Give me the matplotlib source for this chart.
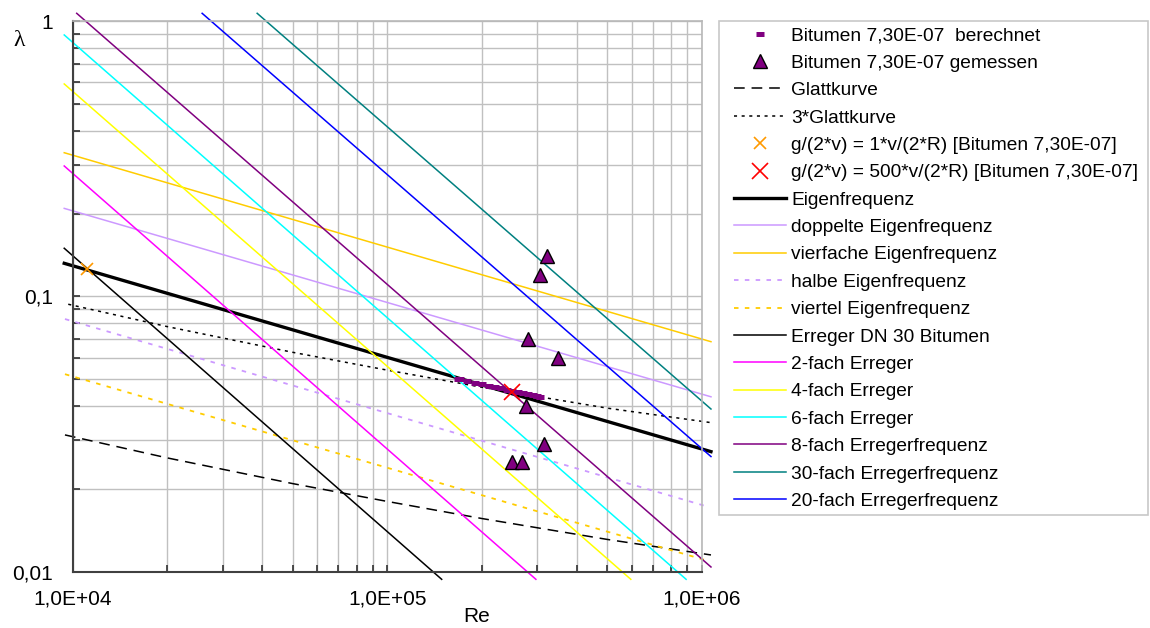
import matplotlib.pyplot as plt
from matplotlib.ticker import FixedLocator, LogLocator, NullFormatter
from matplotlib.patches import Rectangle

plt.rcParams['font.family'] = ['Liberation Sans', 'DejaVu Sans']

# measured points
gem_re = [3.22e5, 3.06e5, 2.80e5, 3.49e5, 2.77e5, 3.15e5, 2.50e5, 2.68e5]
gem = [0.14, 0.12, 0.07, 0.06, 0.04, 0.029, 0.025, 0.025]

# calculated points
ber_re = [1.68e5, 1.70e5, 1.80e5, 1.90e5, 2.00e5, 2.10e5, 2.20e5, 2.30e5,
          2.40e5, 2.50e5, 2.60e5, 2.70e5, 2.80e5, 2.90e5, 3.00e5, 3.06e5]
ber = [0.0501, 0.04995, 0.04925, 0.0486, 0.04799, 0.04742, 0.04687, 0.04636,
       0.04588, 0.04542, 0.04498, 0.04456, 0.04416, 0.04378, 0.04342, 0.0432]

# smooth pipe curves
glatt_re = [9450, 2e4, 5e4, 1e5, 2e5, 5e5, 1.07e6]
glatt = [0.0314, 0.0259, 0.0209, 0.0180, 0.0156, 0.0131, 0.0115]
glatt3_re = [9680, 2e4, 5e4, 1e5, 2e5, 5e5, 1.07e6]
glatt3 = [0.0937, 0.0777, 0.0627, 0.0540, 0.0468, 0.0393, 0.0348]

# single points
g1_re, g1 = [1.114e4], [0.1259]
g500_re, g500 = [2.494e5], [0.0449]

# eigenfrequency lines
eig_re = [9400, 1.07e6]
eigen = [0.132, 0.0273]
doppelt = [0.209, 0.0432]
vierfach = [0.333, 0.0685]
halb_re = [9450, 1.05e6]
halb = [0.0828, 0.0172]
viertel_re = [9450, 1.06e6]
viertel = [0.0522, 0.0109]

# exciter lines
err_re = [9400, 1.49e5]
err = [0.1497, 0.00938]
f2_re = [9400, 2.97e5]
f2 = [0.298, 0.00938]
f4_re = [9400, 5.95e5]
f4 = [0.592, 0.00938]
f6_re = [9400, 8.92e5]
f6 = [0.892, 0.00938]
f8_re = [1.03e4, 1.07e6]
f8 = [1.069, 0.0104]
f30_re = [3.86e4, 1.07e6]
f30 = [1.069, 0.0390]
f20_re = [2.58e4, 1.07e6]
f20 = [1.069, 0.0262]

fig = plt.figure(figsize=(11.5, 6.28), dpi=100)
ax = fig.add_axes([0.0632, 0.0897, 0.547, 0.8764])
ax.set_xscale('log')
ax.set_yscale('log')
ax.set_xlim(1e4, 1e6)
ax.set_ylim(0.01, 1)

h = {}
h['ber'], = ax.plot(ber_re, ber, ls='none', marker='_', ms=6, mew=3.6,
                    color='#800080', zorder=6, label='Bitumen 7,30E-07  berechnet')
h['gem'], = ax.plot(gem_re, gem, ls='none', marker='^', ms=9.5, mfc='#800080',
                    mec='black', mew=1, zorder=7, label='Bitumen 7,30E-07 gemessen')
h['glatt'], = ax.plot(glatt_re, glatt, color='black', lw=1.1, dashes=(7, 4.5),
                      label='Glattkurve')
h['glatt3'], = ax.plot(glatt3_re, glatt3, color='black', lw=1.1, dashes=(2, 3),
                       label='3*Glattkurve')
h['g1'], = ax.plot(g1_re, g1, ls='none', marker='x', ms=9, mew=1.2, color='#ff9900',
                   zorder=8, label='g/(2*v) = 1*v/(2*R) [Bitumen 7,30E-07]')
h['g500'], = ax.plot(g500_re, g500, ls='none', marker='x', ms=12, mew=1.2, color='#ff0000',
                     zorder=8, label='g/(2*v) = 500*v/(2*R) [Bitumen 7,30E-07]')
h['eig'], = ax.plot(eig_re, eigen, color='black', lw=2.4, label='Eigenfrequenz')
h['dop'], = ax.plot(eig_re, doppelt, color='#cc99ff', lw=1.1, label='doppelte Eigenfrequenz')
h['vier'], = ax.plot(eig_re, vierfach, color='#ffcc00', lw=1.1, label='vierfache Eigenfrequenz')
h['halb'], = ax.plot(halb_re, halb, color='#cc99ff', lw=1.3, dashes=(2.5, 3.5),
                     label='halbe Eigenfrequenz')
h['viertel'], = ax.plot(viertel_re, viertel, color='#ffcc00', lw=1.3, dashes=(2.5, 3.5),
                        label='viertel Eigenfrequenz')
h['err'], = ax.plot(err_re, err, color='black', lw=1.1, label='Erreger DN 30 Bitumen')
h['f2'], = ax.plot(f2_re, f2, color='#ff00ff', lw=1.1, label='2-fach Erreger')
h['f4'], = ax.plot(f4_re, f4, color='#ffff00', lw=1.1, label='4-fach Erreger')
h['f6'], = ax.plot(f6_re, f6, color='#00ffff', lw=1.1, label='6-fach Erreger')
h['f8'], = ax.plot(f8_re, f8, color='#800080', lw=1.1, label='8-fach Erregerfrequenz')
h['f30'], = ax.plot(f30_re, f30, color='#008080', lw=1.1, label='30-fach Erregerfrequenz')
h['f20'], = ax.plot(f20_re, f20, color='#0000ff', lw=1.1, label='20-fach Erregerfrequenz')

# lines run a little past the plot frame, like in the original
for line in h.values():
    line.set_clip_on(False)

ax.grid(True, which='both', color='#c0c0c0', lw=1)
ax.set_axisbelow(True)
ax.xaxis.set_major_locator(FixedLocator([1e4, 1e5, 1e6]))
ax.yaxis.set_major_locator(FixedLocator([0.01, 0.1, 1]))
ax.xaxis.set_minor_locator(LogLocator(base=10, subs=range(2, 10)))
ax.yaxis.set_minor_locator(LogLocator(base=10, subs=range(2, 10)))
ax.xaxis.set_minor_formatter(NullFormatter())
ax.yaxis.set_minor_formatter(NullFormatter())
ax.set_xticklabels(['1,0E+04', '1,0E+05', '1,0E+06'])
ax.set_yticklabels(['0,01', '0,1', '1'])
ax.tick_params(axis='both', which='both', direction='in', length=5, width=1.2,
               color='#303030', labelsize=15)
ax.tick_params(axis='x', which='major', pad=13)
ax.tick_params(axis='y', which='major', pad=14)

for side in ['left', 'bottom']:
    ax.spines[side].set_color('#404040')
    ax.spines[side].set_linewidth(1.5)
for side in ['top', 'right']:
    ax.spines[side].set_color('#b8b8b8')
    ax.spines[side].set_linewidth(1.2)

fig.text(477 / 1150, 1 - 617 / 628, 'Re', ha='center', va='center', fontsize=15)
fig.text(19 / 1150, 1 - 41 / 628, 'λ', ha='center', va='center', fontsize=17,
         family=['Liberation Serif', 'DejaVu Serif'])

fig.legend(handles=list(h.values()), loc='upper left',
           bbox_to_anchor=(734 / 1150, 1 - 27 / 628), frameon=False,
           fontsize=13.8, borderpad=0, borderaxespad=0, labelspacing=0.52,
           handlelength=2.71, handletextpad=0.26, numpoints=1)
fig.patches.append(Rectangle((719.3 / 1150, 1 - 515 / 628), 429 / 1150, 494.3 / 628,
                             transform=fig.transFigure, fill=False,
                             edgecolor='#c8c8c8', lw=1.2))

fig.savefig('out.png', dpi=100)
